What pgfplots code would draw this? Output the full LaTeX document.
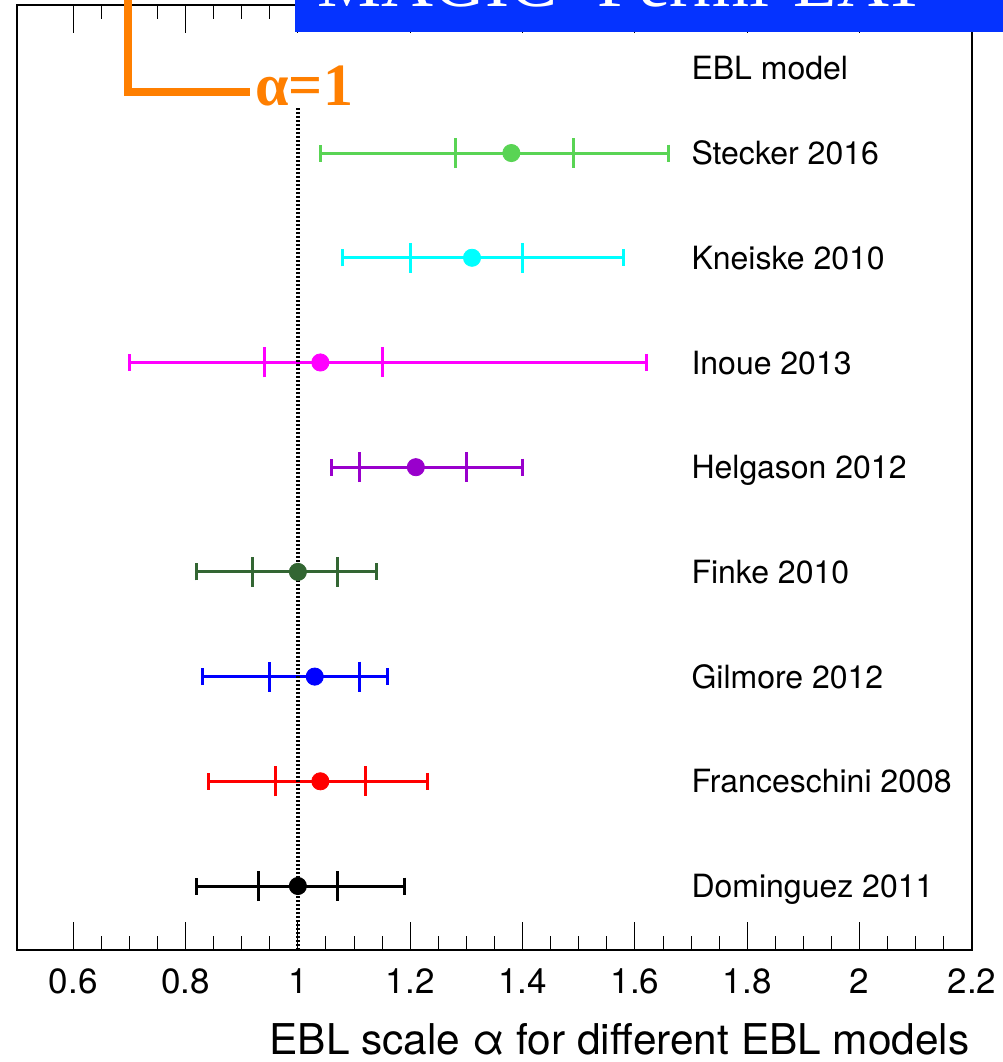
\documentclass[border=0pt]{standalone}
\usepackage{fontspec}
\setmainfont{TeX Gyre Heros}
\newfontfamily\serifb{Liberation Serif}
\usepackage{pgfplots}
\pgfplotsset{compat=1.18}

\definecolor{cStecker}{RGB}{89,212,84}
\definecolor{cKneiske}{RGB}{0,255,255}
\definecolor{cInoue}{RGB}{255,0,255}
\definecolor{cHelg}{RGB}{153,0,204}
\definecolor{cFinke}{RGB}{51,102,51}
\definecolor{cGil}{RGB}{0,0,255}
\definecolor{cFran}{RGB}{255,0,0}
\definecolor{cOrange}{RGB}{255,127,0}
\definecolor{cBox}{RGB}{5,51,255}

% #1 colour, #2 y, #3 value, #4 inner minus, #5 inner plus, #6 outer minus, #7 outer plus
\newcommand{\ebl}[7]{%
  \addplot[color=#1, only marks, mark=*, mark size=4.3pt, mark options={fill=#1, draw=#1},
    error bars/.cd, x dir=both, x explicit, error mark=|,
    error bar style={line width=1.5pt, color=#1},
    error mark options={mark size=4.25pt, line width=1.5pt, color=#1}]
    coordinates {(#3,#2) -= (#6,0) += (#7,0)};
  \addplot[color=#1, only marks, mark=none,
    error bars/.cd, x dir=both, x explicit, error mark=|,
    error bar style={line width=1.5pt, color=#1},
    error mark options={mark size=7.5pt, line width=1.5pt, color=#1}]
    coordinates {(#3,#2) -= (#4,0) += (#5,0)};
}

\begin{document}
\begin{tikzpicture}
\begin{axis}[
  at={(8.5pt,56pt)}, anchor=south west,
  scale only axis, width=477.5pt, height=472.5pt,
  xmin=0.5, xmax=2.2, ymin=-0.611, ymax=8.414,
  axis line style={line width=0.75pt},
  xtick={0.6,0.8,1,1.2,1.4,1.6,1.8,2,2.2},
  xticklabels={0.6,0.8,1,1.2,1.4,1.6,1.8,2,2.2},
  minor x tick num=3,
  ytick=\empty,
  tick align=inside, xtick pos=both, xticklabel pos=lower,
  major tick length=14pt, minor tick length=7pt,
  every tick/.style={black, line width=0.5pt},
  xticklabel style={font=\fontsize{17.5}{20}\selectfont, inner sep=0pt, anchor=north, yshift=-9pt},
  clip=false,
]
\ebl{black}{0}{1.00}{0.07}{0.07}{0.18}{0.19}
\ebl{cFran}{1}{1.04}{0.08}{0.08}{0.20}{0.19}
\ebl{cGil}{2}{1.03}{0.08}{0.08}{0.20}{0.13}
\ebl{cFinke}{3}{1.00}{0.08}{0.07}{0.18}{0.14}
\ebl{cHelg}{4}{1.21}{0.10}{0.09}{0.15}{0.19}
\ebl{cInoue}{5}{1.04}{0.10}{0.11}{0.34}{0.58}
\ebl{cKneiske}{6}{1.31}{0.11}{0.09}{0.23}{0.27}
\ebl{cStecker}{7}{1.38}{0.10}{0.11}{0.34}{0.28}

\addplot[black, line width=1.8pt, dash pattern=on 1pt off 1pt] coordinates {(1,-0.611) (1,7.43)};

\begin{scope}[every node/.style={anchor=base west, inner sep=0pt, yshift=-5.8pt, font=\fontsize{16}{19}\selectfont}]
\node at (axis cs:1.70,7.81) {EBL model};
\node at (axis cs:1.70,7) {Stecker 2016};
\node at (axis cs:1.70,6) {Kneiske 2010};
\node at (axis cs:1.70,5) {Inoue 2013};
\node at (axis cs:1.70,4) {Helgason 2012};
\node at (axis cs:1.70,3) {Finke 2010};
\node at (axis cs:1.70,2) {Gilmore 2012};
\node at (axis cs:1.70,1) {Franceschini 2008};
\node at (axis cs:1.70,0) {Dominguez 2011};
\end{scope}
\end{axis}

\node[anchor=base east, inner sep=0pt, font=\fontsize{21.2}{25}\selectfont] at (485pt,3.5pt) {EBL scale α for different EBL models};

\draw[cOrange, line width=4pt, line join=miter] (64pt,540pt) -- (64pt,485pt) -- (125pt,485pt);
\node[anchor=base west, inner sep=0pt, text=cOrange, font=\serifb\bfseries\fontsize{30}{36}\selectfont] at (127.5pt,478pt) {α=1};

\fill[cBox] (147.5pt,515pt) rectangle (510pt,545pt);
\node[anchor=base west, inner sep=0pt, text=white, font=\serifb\fontsize{36}{40}\selectfont] at (158.5pt,527.5pt) {MAGIC+Fermi-LAT};

\pgfresetboundingbox
\path[use as bounding box] (0,0) rectangle (501.5pt,531pt);
\end{tikzpicture}
\end{document}
